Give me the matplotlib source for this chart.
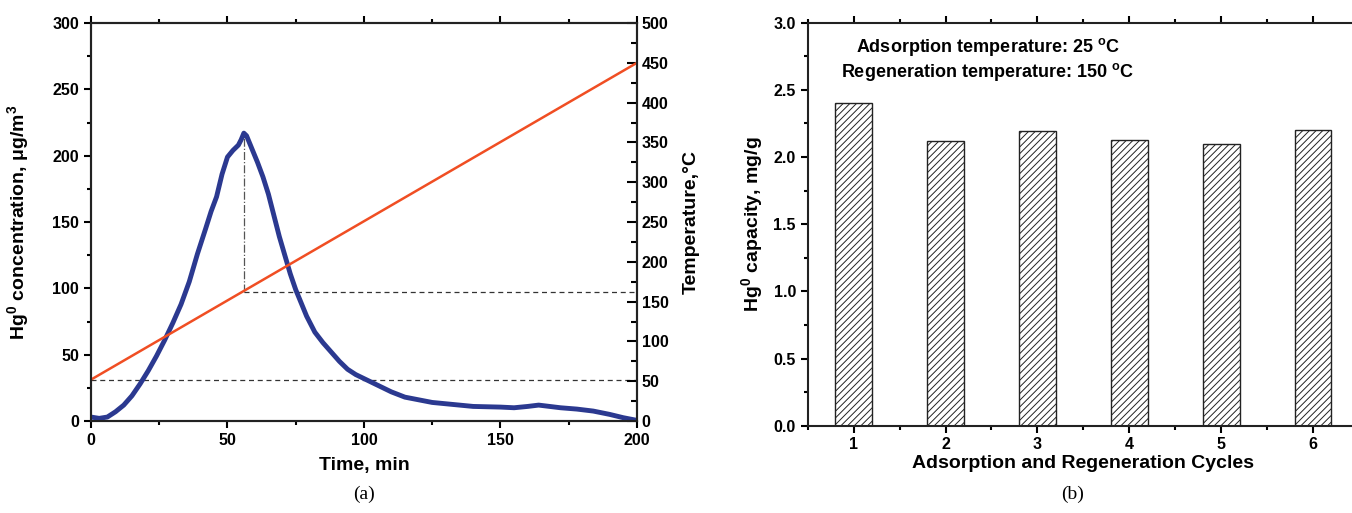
import matplotlib.pyplot as plt
import numpy as np
from matplotlib.ticker import MultipleLocator

plt.rcParams['font.family'] = ['Liberation Sans', 'DejaVu Sans']
plt.rcParams['font.weight'] = 'bold'
plt.rcParams['mathtext.fontset'] = 'custom'
plt.rcParams['mathtext.rm'] = 'Liberation Sans'
plt.rcParams['mathtext.bf'] = 'Liberation Sans:bold'
plt.rcParams['hatch.linewidth'] = 0.7

# (a) Hg0 release during heating
time_min = [0, 3, 6, 9, 12, 15, 18, 21, 24, 27, 30, 33, 36, 39, 42, 44, 46, 48,
            50, 52, 54, 55, 56, 57, 59, 61, 63, 65, 67, 69, 71, 73, 75, 77, 79,
            82, 85, 88, 91, 94, 97, 100, 105, 110, 115, 120, 125, 130, 135, 140,
            150, 155, 160, 164, 168, 172, 178, 184, 190, 195, 200]
hg_conc = [3, 2, 3, 7, 12, 19, 28, 38, 49, 61, 74, 88, 105, 126, 145, 158, 169, 186,
           199, 204, 208, 212, 217, 215, 205, 195, 184, 171, 155, 139, 125, 111, 99, 89, 79,
           67, 59, 52, 45, 39, 35, 32, 27, 22, 18, 16, 14, 13, 12, 11,
           10.5, 10, 11, 12, 11, 10, 9, 7.5, 5, 2.5, 0.5]
temp_time = [0, 200]
temp_c = [52, 450]
peak_t = 56
peak_c = 217
low_level = 31
mid_level = 97.5

# (b) capacity per cycle
cycles = [1, 2, 3, 4, 5, 6]
capacity = [2.40, 2.12, 2.19, 2.13, 2.10, 2.20]

fig = plt.figure(figsize=(13.52, 5.13), dpi=100)
TICK_FS = 11.5
LAB_FS = 14

# ---- panel (a)
ax = fig.add_axes([0.0673, 0.1793, 0.4038, 0.7758])
ax2 = ax.twinx()
ax.plot(time_min, hg_conc, color='#2b3990', lw=3.5, zorder=3)
ax.axhline(low_level, color='#333333', lw=0.9, ls=(0, (4, 3)))
ax.plot([peak_t, 200], [mid_level, mid_level], color='#333333', lw=0.9, ls=(0, (4, 3)))
ax.plot([peak_t, peak_t], [mid_level, peak_c], color='#555555', lw=0.9, ls='-.')
ax2.plot(temp_time, temp_c, color='#f04e23', lw=1.8)

ax.set_xlim(0, 200)
ax.set_ylim(0, 300)
ax2.set_ylim(0, 500)
ax.xaxis.set_major_locator(MultipleLocator(50))
ax.xaxis.set_minor_locator(MultipleLocator(25))
ax.yaxis.set_major_locator(MultipleLocator(50))
ax.yaxis.set_minor_locator(MultipleLocator(25))
ax2.yaxis.set_major_locator(MultipleLocator(50))
ax2.yaxis.set_minor_locator(MultipleLocator(25))

ax.tick_params(axis='both', which='both', direction='out', width=1.5, labelsize=TICK_FS)
ax.tick_params(which='major', length=5)
ax.tick_params(which='minor', length=3)
ax.tick_params(axis='x', top=True, which='both')
ax2.tick_params(axis='y', which='both', direction='in', width=1.5, labelsize=TICK_FS)
ax2.tick_params(which='major', length=7)
ax2.tick_params(which='minor', length=4)
for a in (ax, ax2):
    for s in a.spines.values():
        s.set_linewidth(1.5)
        s.set_color('#222222')
ax.set_xlabel('Time, min', fontsize=LAB_FS, fontweight='bold')
ax.xaxis.set_label_coords(0.5, -0.09)
ax.set_ylabel('Hg$^0$ concentration, μg/m$^3$', fontsize=LAB_FS, fontweight='bold')
ax.yaxis.set_label_coords(-0.108, 0.5)
ax2.set_ylabel('Temperature,°C', fontsize=LAB_FS, fontweight='bold')
ax2.yaxis.set_label_coords(1.084, 0.5)

# ---- panel (b)
bx = fig.add_axes([0.5974, 0.1702, 0.4078, 0.7856])
bx.bar(cycles, capacity, width=0.4, color='white', edgecolor='#222222',
       hatch='/////', linewidth=1.0)
bx.set_xlim(0.5, 6.5)
bx.set_ylim(0, 3.0)
bx.set_xticks(cycles)
bx.xaxis.set_minor_locator(MultipleLocator(0.5))
bx.yaxis.set_major_locator(MultipleLocator(0.5))
bx.yaxis.set_minor_locator(MultipleLocator(0.25))
bx.yaxis.set_major_formatter(plt.FormatStrFormatter('%.1f'))
bx.tick_params(axis='both', which='both', direction='out', width=1.5, labelsize=TICK_FS)
bx.tick_params(which='major', length=5)
bx.tick_params(which='minor', length=3)
bx.tick_params(axis='x', top=True, which='both')
for s in bx.spines.values():
    s.set_linewidth(1.5)
    s.set_color('#222222')
bx.set_xlabel('Adsorption and Regeneration Cycles', fontsize=LAB_FS, fontweight='bold')
bx.xaxis.set_label_coords(0.5, -0.073)
bx.set_ylabel('Hg$^0$ capacity, mg/g', fontsize=LAB_FS, fontweight='bold')
bx.yaxis.set_label_coords(-0.076, 0.5)
bx.text(2.46, 2.82, 'Adsorption temperature: 25 $^\\mathrm{o}$C', ha='center', va='center',
        fontsize=13, fontweight='bold')
bx.text(2.46, 2.63, 'Regeneration temperature: 150 $^\\mathrm{o}$C', ha='center', va='center',
        fontsize=13, fontweight='bold')

fig.text(364 / 1352, 1 - 494 / 513, '(a)', family='Liberation Serif', fontweight='normal',
         fontsize=14, ha='center', va='center')
fig.text(1073 / 1352, 1 - 494 / 513, '(b)', family='Liberation Serif', fontweight='normal',
         fontsize=14, ha='center', va='center')

fig.savefig('out.png', dpi=100)
